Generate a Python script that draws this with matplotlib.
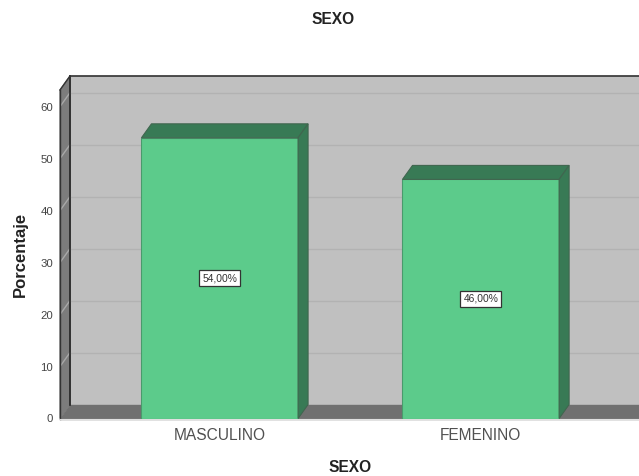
import matplotlib
matplotlib.use('Agg')
import matplotlib.pyplot as plt

plt.rcParams['font.family'] = ['Liberation Sans', 'DejaVu Sans']

categories = ['MASCULINO', 'FEMENINO']
values = [54.0, 46.0]
value_labels = ['54,00%', '46,00%']
y_ticks = [0, 10, 20, 30, 40, 50, 60]

W, H = 639, 476
fig = plt.figure(figsize=(W / 100, H / 100), dpi=100)
ax = fig.add_axes([60 / W, (H - 418.5) / H, 579 / W, 328.5 / H])
ax.set_xlim(-0.612, 1.606)
ax.set_ylim(0, 63.2)

# 3d depth, in data units
dx = 0.0383
dy = 2.69
x0, x1 = -0.612, 1.75
top = 63.2 + dy
ax.patch.set_visible(False)

# back wall, left wall, floor
ax.fill([x0 + dx, x1, x1, x0 + dx], [dy, dy, top, top], color='#c0c0c0', zorder=1, clip_on=False)
ax.fill([x0, x0 + dx, x0 + dx, x0], [0, dy, top, top - dy], color='#7c7c7c', zorder=1, clip_on=False)
ax.fill([x0, x1, x1, x0 + dx], [0, 0, dy, dy], color='#707070', zorder=2, clip_on=False)

for t in y_ticks[1:]:
    ax.plot([x0 + dx, x1], [t + dy, t + dy], color='#b2b2b2', lw=1, zorder=1.5, clip_on=False)
    ax.plot([x0, x0 + dx], [t, t + dy], color='#a8a8a8', lw=1, zorder=1.5, clip_on=False)

# wall edges
ax.plot([x0 + dx, x0 + dx], [dy, top], color='#222222', lw=1.2, zorder=2.5, clip_on=False)
ax.plot([x0 + dx, x1], [top, top], color='#333333', lw=1.2, zorder=2.5, clip_on=False)
ax.plot([x0, x0 + dx], [top - dy, top], color='#333333', lw=1, zorder=2.5, clip_on=False)
ax.plot([x0, x0], [0, top - dy], color='#333333', lw=1, zorder=2.5, clip_on=False)
ax.plot([x0, x1], [0, 0], color='#e0e0e0', lw=0.8, zorder=2.5, clip_on=False)

bar_w = 0.6
bars = ax.bar(range(len(values)), values, width=bar_w, color='#5ccb8b', edgecolor='#4a9a6c', lw=0.8, zorder=3)
for i, v in enumerate(values):
    l = i - bar_w / 2
    r = i + bar_w / 2
    ax.fill([l, r, r + dx, l + dx], [v, v, v + dy, v + dy], facecolor='#387a55', edgecolor='#40664f', lw=0.8, zorder=3, clip_on=False)
    ax.fill([r, r + dx, r + dx, r], [0, dy, v + dy, v], facecolor='#387a55', edgecolor='#40664f', lw=0.8, zorder=3, clip_on=False)
    ax.text(i, v / 2, value_labels[i], ha='center', va='center', fontsize=7.4, color='#333333', zorder=5,
            bbox=dict(boxstyle='square,pad=0.3', fc='white', ec='#333333', lw=0.9))

for s in ax.spines.values():
    s.set_visible(False)
ax.set_xticks(range(len(categories)))
ax.set_xticklabels(categories, fontsize=11.2, color='#505050')
ax.tick_params(axis='x', length=0, pad=7)
ax.set_yticks(y_ticks)
ax.tick_params(axis='y', length=0, pad=5, labelsize=8.2, labelcolor='#444444')

fig.text(333 / W, 1 - 19 / H, 'SEXO', ha='center', va='center', fontsize=11.2, fontweight='bold', color='#222222')
fig.text(350 / W, 1 - 467 / H, 'SEXO', ha='center', va='center', fontsize=11.2, fontweight='bold', color='#222222')
fig.text(20 / W, 1 - 254 / H, 'Porcentaje', ha='center', va='center', rotation=90, fontsize=12, fontweight='bold', color='#222222')

fig.savefig('out.png', dpi=100)
